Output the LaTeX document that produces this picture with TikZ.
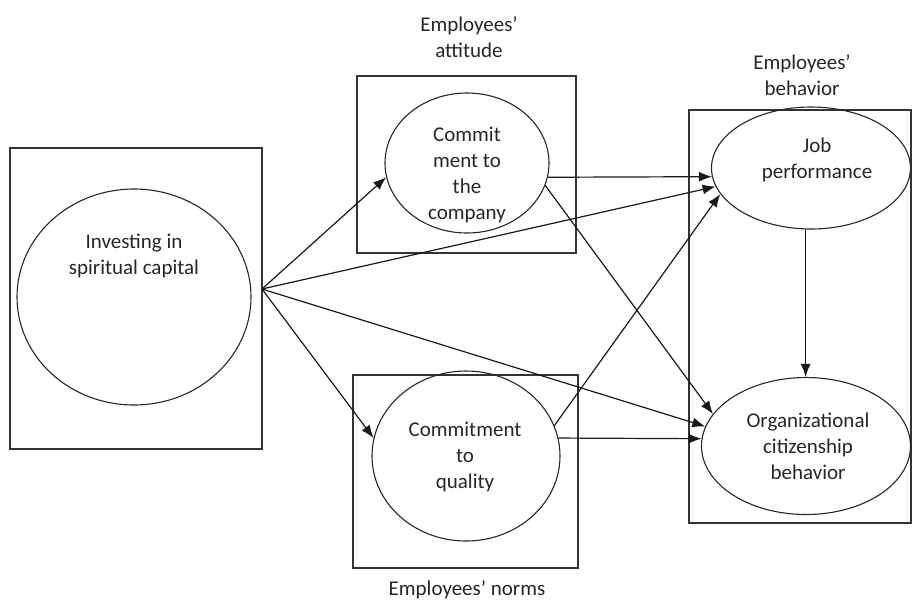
\documentclass[tikz,border=0pt]{standalone}
\usepackage{fontspec}
\setmainfont{Carlito}
\usetikzlibrary{arrows.meta,shapes.geometric}

\tikzset{
  box/.style={draw=black!80,line width=0.75pt,inner sep=0pt},
  ell/.style={draw=black!85,ellipse,line width=0.55pt,inner sep=0pt},
  txt/.style={align=center,text=black!85,font=\fontsize{10.5}{13}\selectfont},
  arr/.style={-{Latex[length=6.5pt,width=5pt]},line width=0.6pt,draw=black!90}
}

\begin{document}
\begin{tikzpicture}[x=0.5pt,y=-0.5pt]
\useasboundingbox (0,0) rectangle (912,602);

\node[box,minimum width=126pt,minimum height=150.5pt] (lbox) at (136,298.5) {};
\node[ell,minimum width=117pt,minimum height=108pt] (invest) at (134,297) {};
\node[txt] (investtxt) at (134,256) {Investing in\\spiritual capital};
\coordinate (src) at (262,289);

\node[box,minimum width=109.5pt,minimum height=88.5pt] (attbox) at (466.5,164.5) {};
\node[ell,minimum width=82pt,minimum height=70pt] (company) at (467,163) {};
\node[txt] (companytxt) at (467,175) {Commit\\ment to\\the\\company};
\node[txt] (attlbl) at (469,37) {Employees’\\attitude};

\node[box,minimum width=112.5pt,minimum height=96.5pt] (normbox) at (465.5,471.5) {};
\node[ell,minimum width=94pt,minimum height=85pt] (quality) at (466,456) {};
\node[txt] (qualitytxt) at (465,457) {Commitment\\to\\quality};
\node[txt] (normlbl) at (467,590) {Employees’ norms};

\node[box,minimum width=111pt,minimum height=206.5pt] (behbox) at (800,316.5) {};
\node[ell,minimum width=99.5pt,minimum height=61pt] (jobp) at (811,168) {};
\node[txt] (jobptxt) at (817,160) {Job\\performance};
\node[ell,minimum width=104.5pt,minimum height=68.5pt] (ocb) at (806,446) {};
\node[txt] (ocbtxt) at (808,446) {Organizational\\citizenship\\behavior};
\node[txt] (behlbl) at (802,75) {Employees’\\behavior};

\draw[arr] (src) -- (company.190);
\draw[arr] (src) -- (jobp.191);
\draw[arr] (src) -- (ocb.169);
\draw[arr] (src) -- (quality.169);

\draw[arr] (company.350) -- (jobp.185);
\draw[arr] (company.344) -- (ocb.161);
\draw[arr] (quality.19) -- (jobp.196);
\draw[arr] (quality.11) -- (ocb.176);

\draw[arr] (jobp.265) -- (jobp.265 |- ocb.north);
\end{tikzpicture}
\end{document}
